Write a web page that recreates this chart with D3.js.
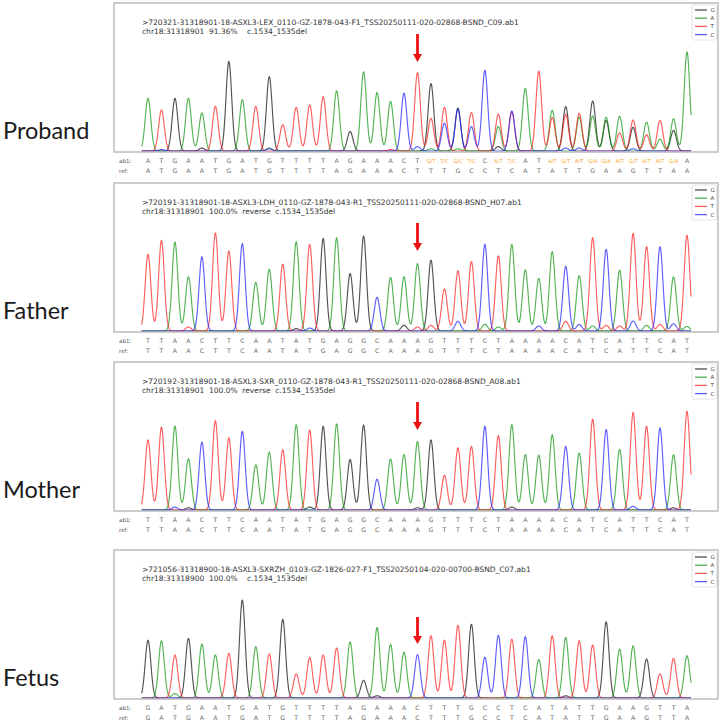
<!DOCTYPE html>
<html><head><meta charset="utf-8">
<script src="https://cdn.jsdelivr.net/npm/d3@7"></script>
<style>body{margin:0;background:#fff}svg{display:block}</style>
</head><body><svg id="c" width="722" height="723"></svg>
<script>
// ---------- DATA ----------
const channels = ["G","A","T","C"];

const probandTitle = [">720321-31318901-18-ASXL3-LEX_0110-GZ-1878-043-F1_TSS20250111-020-02868-BSND_C09.ab1", "chr18:31318901  91.36%    c.1534_1535del"];
const probandCalls = "A T G A A T G A T G T T T T A G A A A C T G/T T/C G/C T/C C A/T T/C A T A/T G/T A/T G/A G/A A/T G/T A/T A/T G/A A".split(" ");
const probandRef   = "A T G A A T G A T G T T T T A G A A A C T T T G C C T C A T A T T G A A G T T A A".split(" ");
const probandG = [0,0,35.6,0,2,0,60.6,0,0,50.3, 0,0,0,0,0,13.2,0,0,0,0, 0,45.6,0,29,0,0,3,0,0,0, 0,30,0,33.8,20.6,0,16,0,0,13.9, 0];
const probandA = [35.6,0,0,35.6,25.7,0,0,34.7,0,2, 0,0,0,0,40.7,0,53.5,39.6,33.6,0, 0,1.5,0,1.5,0,0,16.5,0,42.3,0, 27.5,0,23,23.7,22.8,23.5,0,19.5,8,21.7, 67];
const probandT = [0,27.7,0,0,0,30.2,0,0,30.2,0, 17.7,29.5,31.1,36.7,0,0,0,0,1,0, 53,22.1,29.5,0,26,0,25,26.5,0,54, 22.6,24.8,25.5,0,0,12.3,21,11,20.6,0, 0];
const probandC = [0,1,0,0,0,0,0,0,0,1.5, 0,0,0,0,0,0,0,0,0,39.1, 3,0,18.8,28.4,16.5,54.6,0,27,0,0, 0,2,2,0,0,0,1.5,0,0,0, 0];

const fatherTitle = [">720191-31318901-18-ASXL3-LDH_0110-GZ-1878-043-R1_TSS20250111-020-02868-BSND_H07.ab1", "chr18:31318901  100.0%  reverse  c.1534_1535del"];
const fatherCalls = "T T A A C T T C A A T A T G A G G C A A A G T T T C T A A A A C A T C A T T C A T".split(" ");
const fatherRef   = "T T A A C T T C A A T A T G A G G C A A A G T T T C T A A A A C A T C A T T C A T".split(" ");
const fatherG = [0,0,0,0,0,0,0,0,0,0, 0,1.6,0,62.6,0,38.9,64.2,0,0,3.8, 0,47.9,0,0,0,0,0,0,0,0, 0,0,0,0,0,0,0,0,0,0, 0];
const fatherA = [0,0,60.2,36.7,0,0,0,0,32.9,41.8, 0,60.4,0,0,63.1,0,0,0,36.2,36.7, 45.6,0,0,0,0,4.5,2.7,58.6,41.4,35.6, 53.7,0,37.4,3.4,0,41.2,0,3.8,0,36.7, 3.1];
const fatherT = [51.9,61.3,0,2.7,0,66.4,54.1,0,0,0, 45.2,0,58.6,0,0,0,0,0,0,0, 2.7,3.8,28.4,40.7,47,0,50.8,0,0,0, 0,6.5,0,63.1,3.8,3.4,66,57,4.5,0, 64.7];
const fatherC = [0,0,0,0,50.1,0,0,59.1,0,0, 0,0,2,0,0,0,0,22.8,0,0, 0,0,0,6.5,0,58.6,0,0,0,3.4, 0,43.8,4.3,0,55.3,0,6.7,0,57,4.9, 0];

const motherTitle = [">720192-31318901-18-ASXL3-SXR_0110-GZ-1878-043-R1_TSS20250111-020-02868-BSND_A08.ab1", "chr18:31318901  100.0%  reverse  c.1534_1535del"];
const motherCalls = "T T A A C T T C A A T A T G A G G C A A A G T T T C T A A A A C A T C A T T C A T".split(" ");
const motherRef   = "T T A A C T T C A A T A T G A G G C A A A G T T T C T A A A A C A T C A T T C A T".split(" ");
const motherG = [0,0,0,1.5,0,0,0,0,0,0, 0,0,2,56.6,0,34.2,57.5,0,0,0, 1.5,47.4,0,0,0,0,0,2,0,0, 0,0,0,0,0,0,0,0,0,1.5, 0];
const motherA = [0,0,56.8,34.7,0,0,0,0,30.6,39.1, 0,57.7,0,0,58.2,0,0,0,34.5,37.4, 46.3,0,0,0,0,0,0,57.7,37.4,37.1, 50.8,0,38.5,0,0,40.9,0,0,0,37.4, 0];
const motherT = [47.4,55.9,0,0,0,60.4,48.8,0,0,0, 40.7,0,54.1,0,0,0,0,0,0,0, 0,0,23.5,42.1,43,0,50.3,0,0,0, 0,0,0,61.5,0,0,66,56.6,0,0, 66.7];
const motherC = [0,0,2,0,45.9,0,0,53.2,0,0, 0,0,0,0,0,0,0,20.8,0,0, 0,0,0,0,0,56.6,0,0,0,0, 0,43,0,0,54.4,0,2.5,0,55.5,0, 0];

const fetusTitle = [">721056-31318900-18-ASXL3-SXRZH_0103-GZ-1826-027-F1_TSS20250104-020-00700-BSND_C07.ab1", "chr18:31318900  100.0%    c.1534_1535del"];
const fetusCalls = "G A T G A A T G A T G T T T T A G A A A C T T T G C C T C A T A T T G A A G T T A".split(" ");
const fetusRef   = "G A T G A A T G A T G T T T T A G A A A C T T T G C C T C A T A T T G A A G T T A".split(" ");
const fetusG = [39.1,0,0,40.3,0,0,0,66.2,0,0, 53.2,0,0,0,0,0,11.9,1.5,0,0, 0,0,0,0,49.9,0,0,0,0,0, 0,1.5,0,0,51.5,0,0,26.4,0,0, 0];
const fetusA = [0,38.7,3,0,36.5,29.1,0,0,34.7,0, 0,0,0,0,0,38,0,47.7,36.2,30.9, 0,0,0,0,0,0,0,0,0,26, 0,40.9,0,0,0,33.1,35.3,0,0,0, 28.6];
const fetusT = [0,0,29.1,0,0,0,30.2,0,0,29.8, 0,16.3,27.5,29.1,33.8,0,0,0,0,0, 0,42.1,39.1,49.2,0,0,0,39.8,0,0, 42.1,0,38.7,35.8,0,0,0,0,16.3,26.8, 0];
const fetusC = [0,0,0,0,0,0,0,0,0,0, 0,0,0,0,0,0,0,0,0,0, 29.3,0,0,0,0,27.5,42.5,0,41.4,0, 0,0,0,0,0,0,0,0,0,0, 0];

const sampleNames = ["Proband","Father","Mother","Fetus"];
const arrowBase = 20; // index of the marked base (c.1534)

// ---------- LAYOUT / STYLE ----------
const panelTops = [3, 183, 362, 550];
const plotH = 149;
const frameL = 114, frameR = 718;
const arrowOffsets = [[31,59],[40,68],[40,68],[67,94]];
const colors = {G:"#111111", A:"#129612", T:"#ff2020", C:"#2020ff"};

const panels = [
  {title:probandTitle, calls:probandCalls, ref:probandRef, tr:{G:probandG,A:probandA,T:probandT,C:probandC}},
  {title:fatherTitle,  calls:fatherCalls,  ref:fatherRef,  tr:{G:fatherG,A:fatherA,T:fatherT,C:fatherC}},
  {title:motherTitle,  calls:motherCalls,  ref:motherRef,  tr:{G:motherG,A:motherA,T:motherT,C:motherC}},
  {title:fetusTitle,   calls:fetusCalls,   ref:fetusRef,   tr:{G:fetusG,A:fetusA,T:fetusT,C:fetusC}}
];

const svg = d3.select("#c");
const x = d3.scaleLinear().domain([0, 40]).range([148, 687]);
const sigma = 0.21;
const tStart = -0.47, tEnd = 40.3;
const ts = d3.range(tStart, tEnd + 0.001, 0.03);

panels.forEach((p, pi) => {
  const top = panelTops[pi];
  const base = top + plotH;
  const y = d3.scaleLinear().domain([0, 100]).range([base - 1, top]);
  const g = svg.append("g");

  // traces
  channels.forEach(ch => {
    const vals = p.tr[ch];
    const pts = ts.map(t => {
      let v = 0;
      vals.forEach((h, i) => { if (h) v += h * Math.exp(-((t - i) ** 2) / (2 * sigma * sigma)); });
      return [t, v];
    });
    g.append("path")
      .attr("d", d3.line().x(d => x(d[0])).y(d => y(d[1]))(pts))
      .attr("fill", "none")
      .attr("stroke", colors[ch])
      .attr("stroke-opacity", 0.72)
      .attr("stroke-width", 1.15)
      .attr("stroke-linejoin", "round");
  });

  // frame
  g.append("rect").attr("x", frameL).attr("y", top).attr("width", frameR - frameL).attr("height", plotH)
    .attr("fill", "none").attr("stroke", "#bdbdbd").attr("stroke-width", 1.5);

  // title
  p.title.forEach((t, k) => {
    g.append("text").attr("x", 142).attr("y", top + 21.5 + k * 9)
      .attr("font-family", "DejaVu Sans").attr("font-size", 7.5).attr("fill", "#333")
      .text(t.replace(/ /g, "\u00A0"));
  });

  // legend
  const lg = g.append("g");
  lg.append("rect").attr("x", 692).attr("y", top + 2).attr("width", 24.5).attr("height", 35).attr("rx", 2)
    .attr("fill", "#fff").attr("stroke", "#dddddd").attr("stroke-width", 0.8);
  channels.forEach((ch, k) => {
    const yy = top + 7 + k * 8.2;
    lg.append("line").attr("x1", 695).attr("x2", 707).attr("y1", yy).attr("y2", yy)
      .attr("stroke", colors[ch]).attr("stroke-opacity", 0.75).attr("stroke-width", 1.3);
    lg.append("text").attr("x", 710.5).attr("y", yy + 2).attr("font-family", "DejaVu Sans")
      .attr("font-size", 5.5).attr("fill", "#444").text(ch);
  });

  // arrow
  const ax = x(arrowBase), a0 = top + arrowOffsets[pi][0], a1 = top + arrowOffsets[pi][1];
  g.append("line").attr("x1", ax).attr("x2", ax).attr("y1", a0).attr("y2", a1 - 7)
    .attr("stroke", "#ee1111").attr("stroke-width", 2.8);
  g.append("path").attr("d", `M${ax-4.5},${a1-8}L${ax+4.5},${a1-8}L${ax},${a1}Z`).attr("fill", "#ee1111");

  // base rows
  const rowY = [base + 11, base + 21];
  ["ab1:", "ref:"].forEach((lab, k) => {
    g.append("text").attr("x", 119).attr("y", rowY[k]).attr("font-family", "DejaVu Sans")
      .attr("font-size", 5.6).attr("fill", "#555").text(lab);
  });
  [p.calls, p.ref].forEach((arr, k) => {
    g.selectAll(null).data(arr).enter().append("text")
      .attr("x", (d, i) => x(i)).attr("y", rowY[k])
      .attr("text-anchor", "middle").attr("font-family", "DejaVu Sans")
      .attr("font-size", d => d.length > 1 ? 5.2 : 6.2)
      .attr("fill", d => d.length > 1 ? "#f5a623" : "#666")
      .text(d => d);
  });

  // sample name
  svg.append("text").attr("x", 3).attr("y", top + 135.5)
    .attr("font-family", "Lato").attr("font-size", 23.5).attr("fill", "#1a1a1a").text(sampleNames[pi]);
});
</script>
</body></html>
